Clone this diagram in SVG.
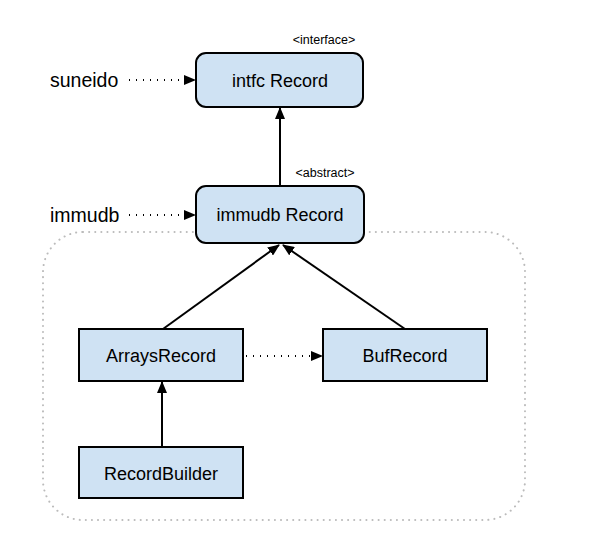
<svg xmlns="http://www.w3.org/2000/svg" width="591" height="536" viewBox="0 0 591 536">
<style>
text{font-family:"Liberation Sans",Arial,sans-serif;fill:#000}
.box{fill:#cfe2f3;stroke:#000;stroke-width:2}
.lbl{font-size:18px;text-anchor:middle}
.side{font-size:19.5px}
.tag{font-size:12.5px;text-anchor:middle}
.solid{stroke:#000;stroke-width:2;fill:none}
.dot{stroke:#000;stroke-width:2;fill:none;stroke-dasharray:1 6}
</style>
<defs>
<marker id="ah" markerWidth="12" markerHeight="10" refX="11" refY="5" orient="auto" markerUnits="userSpaceOnUse">
<path d="M0,0 L12,5 L0,10 z" fill="#000"/>
</marker>
</defs>
<rect x="43" y="232" width="482" height="288" rx="40" fill="none" stroke="#bbb" stroke-width="2" stroke-dasharray="0.1 6" stroke-linecap="round"/>
<g id="connectors">
<line class="solid" x1="280" y1="186" x2="280" y2="108" marker-end="url(#ah)"/>
<line class="solid" x1="163" y1="329" x2="279" y2="245" marker-end="url(#ah)"/>
<line class="solid" x1="405" y1="329" x2="283" y2="245" marker-end="url(#ah)"/>
<line class="solid" x1="162" y1="447" x2="162" y2="382" marker-end="url(#ah)"/>
<line class="dot" x1="246" y1="356" x2="322" y2="356" marker-end="url(#ah)"/>
<line class="dot" x1="129" y1="80" x2="195" y2="80" marker-end="url(#ah)"/>
<line class="dot" x1="129" y1="215" x2="195" y2="215" marker-end="url(#ah)"/>
</g>
<g id="suneido"><text class="side" x="50" y="87">suneido</text></g>
<g id="immudb"><text class="side" x="50" y="222">immudb</text></g>
<g id="intfc-record">
<text class="tag" x="324" y="44">&lt;interface&gt;</text>
<rect class="box" x="196" y="53" width="167" height="54" rx="10"/>
<text class="lbl" x="280" y="87">intfc Record</text>
</g>
<g id="immudb-record">
<text class="tag" x="325" y="177">&lt;abstract&gt;</text>
<rect class="box" x="196" y="186" width="168" height="57" rx="10"/>
<text class="lbl" x="280" y="221">immudb Record</text>
</g>
<g id="arrays-record">
<rect class="box" x="79" y="329" width="164" height="52"/>
<text class="lbl" x="161" y="362">ArraysRecord</text>
</g>
<g id="buf-record">
<rect class="box" x="323" y="329" width="164" height="52"/>
<text class="lbl" x="405" y="362">BufRecord</text>
</g>
<g id="record-builder">
<rect class="box" x="79" y="447" width="164" height="51"/>
<text class="lbl" x="161" y="480">RecordBuilder</text>
</g>
</svg>
